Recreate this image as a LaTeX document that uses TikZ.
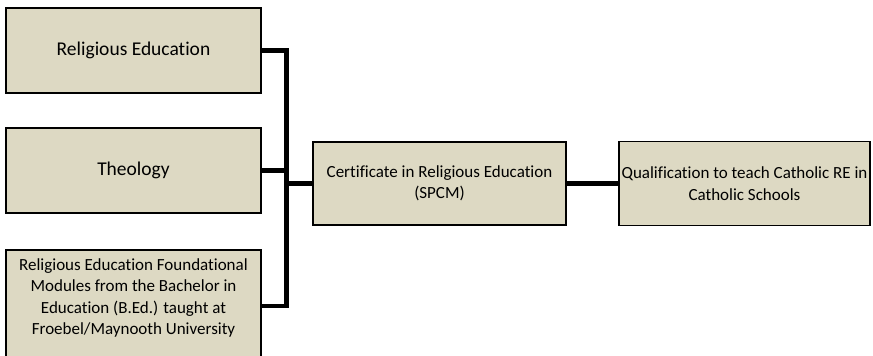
\documentclass[tikz,border=0pt]{standalone}
\usepackage{fontspec}
\setmainfont{Carlito}[Ligatures = NoCommon]
\usetikzlibrary{positioning}
\definecolor{tan}{HTML}{DDD9C3}
\tikzset{%
	srcbox/.style   	= {draw, line width = 1.6pt, rectangle, fill = tan, inner sep = 2pt, align = center, minimum width = 255pt, minimum height = 85pt}, % Left course blocks
	bigtext/.style  	= {font = \fontsize{19.5}{23}\selectfont},
	smalltext/.style	= {font = \fontsize{17}{21.5}\selectfont, align = center},
	link/.style     	= {line width = 4.5pt}, % Connector
	bus/.style      	= {coordinate} % Joining point
}

\begin{document}
\begin{tikzpicture}[x = 1pt, y = -1pt]
	\useasboundingbox (0,0) rectangle (873,356);
	\draw % Drawing the blocks
	node at (133.5, 50.5) [srcbox, bigtext] (relig) {Religious Education}
	node at (133.5, 170.5) [srcbox, bigtext] (theo) {Theology}
	node at (133.5, 306) [srcbox, minimum height = 112pt] (found) {}
	node at (133.5, 298) [smalltext] (foundtext) {Religious Education Foundational\\Modules from the Bachelor in\\Education (B.Ed.) taught at\\Froebel/Maynooth University}
	node at (439.5, 183.5) [srcbox, smalltext, minimum width = 253pt, minimum height = 83pt] (cert) {Certificate in Religious Education\\(SPCM)}
	node at (744.5, 183.5) [srcbox, smalltext, minimum width = 251pt, minimum height = 84pt] (qual) {Qualification to teach Catholic RE in\\Catholic Schools}
	node at (286.5, 183.5) [bus] (join) {}
	;
	
	% Drawing the connectors
	\draw[link] (relig) -| (join);
	\draw[link] (theo) -| (join);
	\draw[link] (found) -| (join);
	\draw[link] (join) -- (cert);
	\draw[link] (cert) -- (qual);
\end{tikzpicture}
\end{document}
